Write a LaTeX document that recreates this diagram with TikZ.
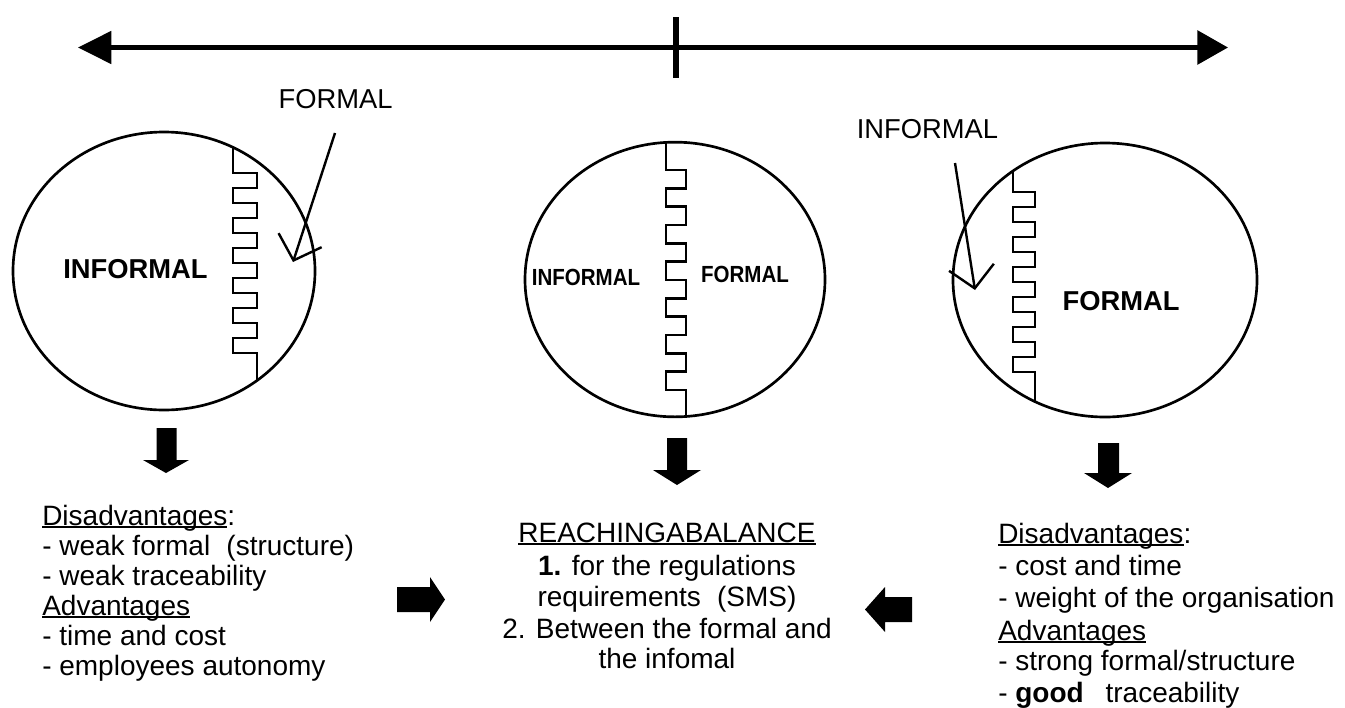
\documentclass[tikz,border=0pt]{standalone}
\usepackage{fontspec}
\setmainfont{Liberation Sans}
\usetikzlibrary{arrows.meta,shapes.geometric}
\newsavebox\myulbox
\newcommand\myul[1]{\sbox\myulbox{#1}\rlap{\rule[-2.4pt]{\wd\myulbox}{1.3pt}}\usebox\myulbox}
\begin{document}
\begin{tikzpicture}[x=0.75pt,y=-0.75pt,
  axisline/.style={line width=3.8pt},
  ring/.style={draw, ellipse, line width=2pt, inner sep=0pt},
  comb/.style={line width=1.8pt, line join=miter},
  pointer/.style={line width=1.8pt, -{Straight Barb[length=16pt,width=34pt]}},
  blk/.style={fill=black, draw=none},
  lab/.style={font=\fontsize{20.5}{24}\selectfont, inner sep=0pt, anchor=base},
  biglab/.style={font=\fontsize{20.5}{24}\selectfont\bfseries, inner sep=0pt, anchor=base},
  smalllab/.style={font=\fontsize{17.5}{20}\selectfont\bfseries, inner sep=0pt, anchor=base},
  body/.style={font=\fontsize{21}{24}\selectfont, inner sep=0pt, anchor=base west},
  cbody/.style={font=\fontsize{21}{24}\selectfont, inner sep=0pt, anchor=base}
]
\useasboundingbox (0,0) rectangle (1345,707);

% top axis
\coordinate (aL) at (78,47.5);
\coordinate (aR) at (1228,47.5);
\coordinate (tT) at (676,17);
\coordinate (tB) at (676,78);
\draw[axisline, {Triangle[length=25pt,width=24pt]}-{Triangle[length=23pt,width=25pt]}] (aL) -- (aR);
\draw[axisline] (tT) -- (tB);

% circles
\node[ring, minimum width=226.5pt, minimum height=208.5pt] (c1) at (164,271) {};
\node[ring, minimum width=225pt, minimum height=206pt] (c2) at (675,279.5) {};
\node[ring, minimum width=228pt, minimum height=205.5pt] (c3) at (1105,280) {};

% combs
\draw[comb] (233,147) -- (233,173)
  \foreach \i in {1,...,6} { -- ++(24,0) -- ++(0,15) -- ++(-24,0) -- ++(0,15) }
  -- ++(24,0) -- (257,381);
\draw[comb] (666,142) -- (666,170)
  \foreach \i in {1,...,6} { -- ++(20,0) -- ++(0,18.33) -- ++(-20,0) -- ++(0,18.33) }
  -- ++(20,0) -- (686,417);
\draw[comb] (1013,171) -- (1013,192)
  \foreach \i in {1,...,6} { -- ++(22,0) -- ++(0,15) -- ++(-22,0) -- ++(0,15) }
  -- ++(22,0) -- (1035,401);

% circle labels
\node[biglab] (i1) at (135.5,278) {INFORMAL};
\node[smalllab] (i2) at (586,285) {\scalebox{0.88}[1]{INFORMAL}};
\node[smalllab] (f2) at (745,282) {\scalebox{0.88}[1]{FORMAL}};
\node[biglab] (f3) at (1121,310) {FORMAL};

% outside labels and pointers
\node[lab] (lf) at (335.5,108) {FORMAL};
\node[lab] (li) at (927.5,138) {INFORMAL};
\coordinate (fS) at (335,133);
\coordinate (fE) at (293,262);
\coordinate (iS) at (955,163);
\coordinate (iE) at (975,290);
\draw[pointer] (fS) -- (fE);
\draw[pointer] (iS) -- (iE);

% block arrows down
\fill[blk] (156.5,428) -- (176.5,428) -- (176.5,460) -- (189,460) -- (166,473) -- (143,460) -- (156.5,460) -- cycle;
\fill[blk] (667,438) -- (687,438) -- (687,470) -- (701,470) -- (677,485) -- (653,470) -- (667,470) -- cycle;
\fill[blk] (1098,443) -- (1119,443) -- (1119,473) -- (1132,473) -- (1108,488) -- (1084,473) -- (1098,473) -- cycle;
% block arrows sideways
\fill[blk] (397,587) -- (430,587) -- (430,577) -- (445,599.5) -- (430,622) -- (430,612) -- (397,612) -- cycle;
\fill[blk] (912,597) -- (885,597) -- (885,587) -- (865,609.5) -- (885,632) -- (885,622) -- (912,622) -- cycle;

% left text
\node[body] (l1) at (42,525) {\myul{Disadvantages}:};
\node[body] (l2) at (42,555) {- weak formal\hspace{0.3em} (structure)};
\node[body] (l3) at (42,585) {- weak traceability};
\node[body] (l4) at (42,615) {\myul{Advantages}};
\node[body] (l5) at (42,645) {- time and cost};
\node[body] (l6) at (42,675) {- employees autonomy};

% middle text
\node[cbody] (m1) at (667,542) {\myul{REACHINGABALANCE}};
\node[cbody] (m2) at (667,575) {\textbf{1.} for the regulations};
\node[cbody] (m3) at (667,606) {requirements\hspace{0.3em} (SMS)};
\node[cbody] (m4) at (667,638) {2. Between the formal and};
\node[cbody] (m5) at (667,668) {the infomal};

% right text
\node[body] (r1) at (998,543) {\myul{Disadvantages}:};
\node[body] (r2) at (998,575) {- cost and time};
\node[body] (r3) at (998,607) {- weight of the organisation};
\node[body] (r4) at (998,640) {\myul{Advantages}};
\node[body] (r5) at (998,670) {- strong formal/structure};
\node[body] (r6) at (998,702) {- \textbf{good}\hspace{0.5em} traceability};
\end{tikzpicture}
\end{document}
